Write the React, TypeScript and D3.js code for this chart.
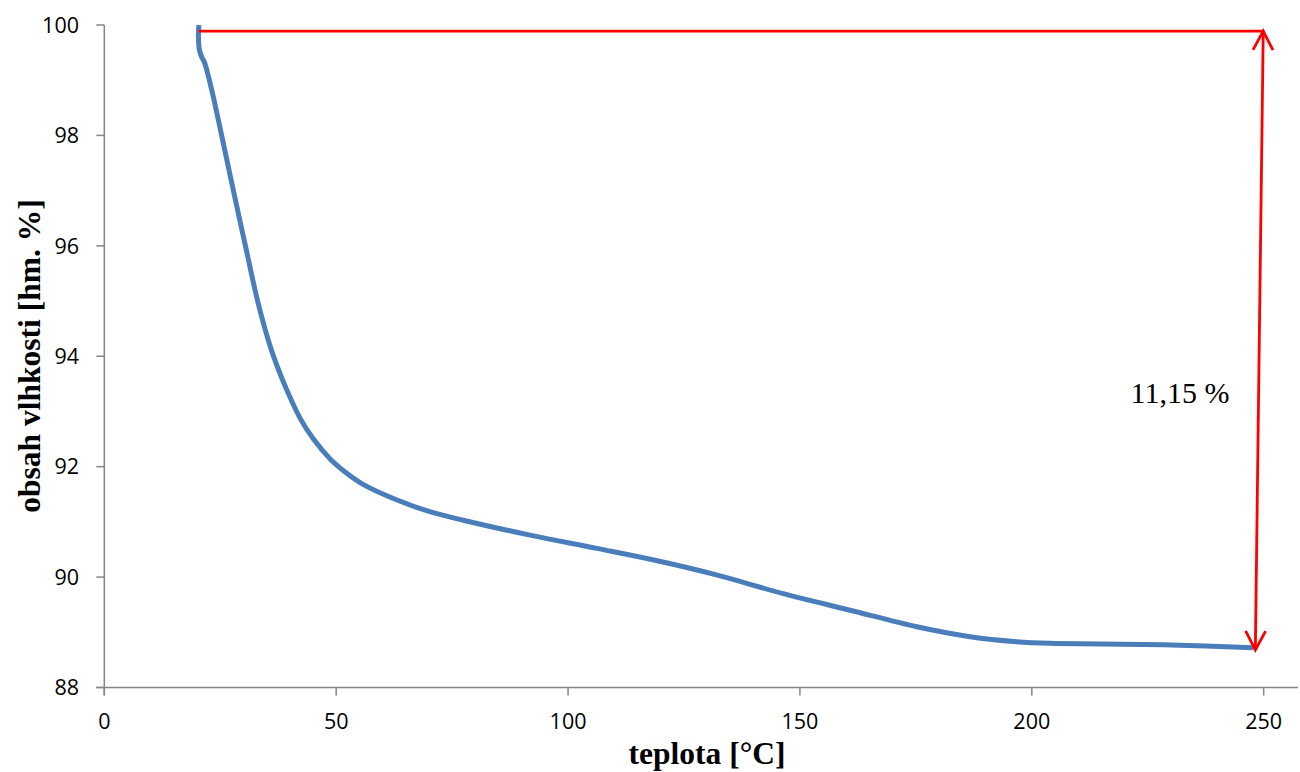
import React from "react";
import * as d3 from "d3";

// Data: temperature [°C] vs moisture content [wt. %]
const temperature: number[] = [
  20.4, 20.3, 20.5, 21.0, 21.6, 22.3, 23.5, 25.0, 27.0, 29.0, 31.0, 32.5, 34.3, 36.4,
  39.3, 42.2, 45.1, 48.7, 52.0, 55.8, 63.0, 70.0, 77.4, 91.8, 106.2, 119.0,
  132.0, 146.4, 160.8, 175.2, 186.7, 196.7, 203.9, 214.7, 230.0, 247.7,
];
const moisture: number[] = [
  100.0, 99.8, 99.55, 99.42, 99.32, 99.12, 98.7, 98.12, 97.33, 96.55, 95.78, 95.2, 94.6,
  94.02, 93.4, 92.88, 92.5, 92.14, 91.9, 91.68, 91.4, 91.19, 91.03, 90.76, 90.52,
  90.3, 90.04, 89.7, 89.4, 89.1, 88.92, 88.83, 88.8, 88.79, 88.77, 88.72,
];

const xTicks: number[] = [0, 50, 100, 150, 200, 250];
const yTicks: number[] = [88, 90, 92, 94, 96, 98, 100];

// Annotation (red bracket with double arrow), in data coordinates
const bracketLine: [number, number][] = [
  [20.4, 99.89],
  [249.9, 99.89],
];
const arrowLine: [number, number][] = [
  [249.9, 99.89],
  [248.2, 88.68],
];
const annotationLabel = "11,15 %";
const xTitle = "teplota [°C]";
const yTitle = "obsah vlhkosti [hm. %]";

export default function App() {
  const W = 1300;
  const H = 772;
  const x = d3.scaleLinear().domain([0, 250]).range([104.3, 1263.7]);
  const y = d3.scaleLinear().domain([88, 100]).range([687.5, 25]);
  const axisRight = 1298;

  const pts: [number, number][] = temperature.map((t, i) => [x(t), y(moisture[i])]);
  const line = d3
    .line<[number, number]>()
    .x((d) => d[0])
    .y((d) => d[1])
    .curve(d3.curveCatmullRom.alpha(0.5));

  const simple = d3.line<[number, number]>().x((d) => x(d[0])).y((d) => y(d[1]));

  // arrowheads
  const a0 = [x(arrowLine[0][0]), y(arrowLine[0][1])];
  const a1 = [x(arrowLine[1][0]), y(arrowLine[1][1])];
  const head = (tip: number[], from: number[]) => {
    const dx = from[0] - tip[0];
    const dy = from[1] - tip[1];
    const len = Math.hypot(dx, dy);
    const ux = dx / len;
    const uy = dy / len;
    const L = 19;
    const Wd = 10;
    const bx = tip[0] + ux * L;
    const by = tip[1] + uy * L;
    return `M${bx - uy * Wd},${by + ux * Wd}L${tip[0]},${tip[1]}L${bx + uy * Wd},${by - ux * Wd}`;
  };

  const axisColor = "#868686";
  const tickFont = "'Open Sans', 'Liberation Sans', sans-serif";

  return (
    <svg width={W} height={H} style={{ position: "absolute", left: 0, top: 0, background: "#fff" }}>
      {/* axes */}
      <g stroke={axisColor} strokeWidth={1.5} fill="none">
        <line x1={x(0)} x2={x(0)} y1={y(100)} y2={y(88) + 8} />
        <line x1={x(0) - 8} x2={axisRight} y1={y(88)} y2={y(88)} />
        {yTicks.map((t) => (
          <line key={"yt" + t} x1={x(0) - 8} x2={x(0)} y1={y(t)} y2={y(t)} />
        ))}
        {xTicks.map((t) => (
          <line key={"xt" + t} x1={x(t)} x2={x(t)} y1={y(88)} y2={y(88) + 8} />
        ))}
      </g>
      {/* tick labels */}
      <g fontFamily={tickFont} fontSize={21.5} fill="#000">
        {yTicks.map((t) => (
          <text key={"yl" + t} x={79} y={y(t)} dy="0.36em" textAnchor="end">
            {t}
          </text>
        ))}
        {xTicks.map((t) => (
          <text key={"xl" + t} x={x(t)} y={721} dy="0.36em" textAnchor="middle">
            {t}
          </text>
        ))}
      </g>
      {/* titles */}
      <text
        x={707}
        y={764}
        textAnchor="middle"
        fontFamily="'Liberation Serif', 'Times New Roman', serif"
        fontWeight="bold"
        fontSize={31.5}
      >
        {xTitle}
      </text>
      <text
        transform={`translate(40,356) rotate(-90)`}
        textAnchor="middle"
        fontFamily="'Liberation Serif', 'Times New Roman', serif"
        fontWeight="bold"
        fontSize={31.5}
      >
        {yTitle}
      </text>
      {/* data line */}
      <path d={line(pts) || ""} fill="none" stroke="#4a7ebb" strokeWidth={5} strokeLinejoin="round" strokeLinecap="butt" />
      {/* annotation */}
      <g stroke="#ff0000" strokeWidth={2.8} fill="none">
        <path d={simple(bracketLine) || ""} />
        <path d={simple(arrowLine) || ""} />
        <path d={head(a0, a1)} />
        <path d={head(a1, a0)} />
      </g>
      <text
        x={1180}
        y={403}
        textAnchor="middle"
        fontFamily="'Liberation Serif', 'Times New Roman', serif"
        fontSize={30}
      >
        {annotationLabel}
      </text>
    </svg>
  );
}
